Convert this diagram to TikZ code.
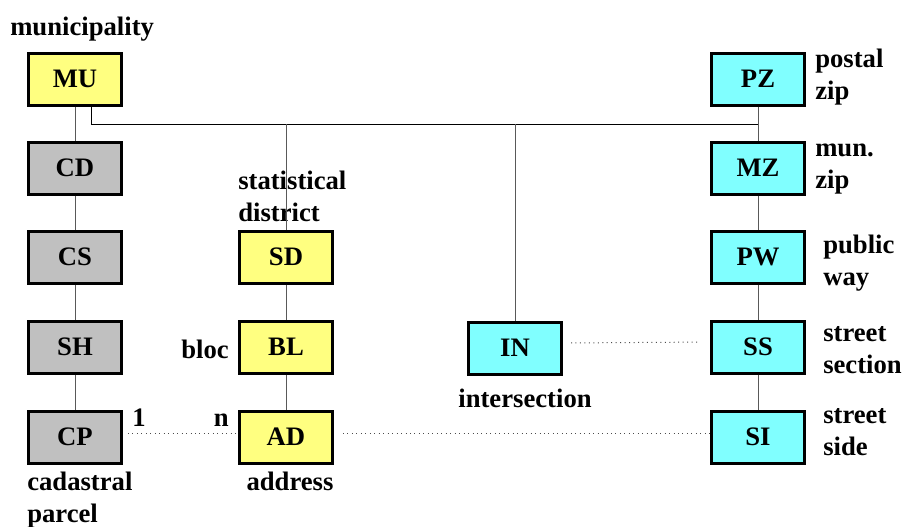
\documentclass[tikz,border=0pt]{standalone}
\usepackage{fontspec}
\setmainfont{Liberation Serif}
\usetikzlibrary{positioning}

\definecolor{boxyellow}{HTML}{FFFF80}
\definecolor{boxgray}{HTML}{C0C0C0}
\definecolor{boxcyan}{HTML}{80FFFF}

\begin{document}
\begin{tikzpicture}[x=0.75pt, y=-0.75pt,
    every node/.style={font=\fontsize{20}{24}\selectfont\bfseries},
    box/.style={draw, line width=2.25pt, minimum width=69.75pt, minimum height=39pt, inner sep=0pt},
    lbl/.style={inner sep=0pt, align=left},
    link/.style={draw=black!65, line width=0.75pt},
    dots/.style={draw=black!70, line width=0.75pt, dash pattern=on 0.75pt off 2.6pt}]
                \useasboundingbox (0,0) rectangle (904,526);

                % Nodes
                \node at (75,79) (mu) [box, fill=boxyellow] {MU};
                \node at (75,168) (cd) [box, fill=boxgray] {CD};
                \node at (75,257) (cs) [box, fill=boxgray] {CS};
                \node at (75,347) (sh) [box, fill=boxgray] {SH};
                \node at (75,437) (cp) [box, fill=boxgray] {CP};
                \node at (286,257) (sd) [box, fill=boxyellow] {SD};
                \node at (286,347) (bl) [box, fill=boxyellow] {BL};
                \node at (286,437) (ad) [box, fill=boxyellow] {AD};
                \node at (515,348) (in) [box, fill=boxcyan] {IN};
                \node at (758,79) (pz) [box, fill=boxcyan] {PZ};
                \node at (758,168) (mz) [box, fill=boxcyan] {MZ};
                \node at (758,257) (pw) [box, fill=boxcyan] {PW};
                \node at (758,347) (ss) [box, fill=boxcyan] {SS};
                \node at (758,437) (si) [box, fill=boxcyan] {SI};
                \coordinate (bus) at (758,124);

                % Labels
                \node at (10,35) (mulbl) [lbl, anchor=base west] {municipality};
                \node at (815,77) (pzlbl) [lbl, anchor=west] {postal\\zip};
                \node at (815,169) (mzlbl) [lbl, anchor=west] {mun.\\zip};
                \node at (823,263) (pwlbl) [lbl, anchor=west] {public\\way};
                \node at (238,196) (sdlbl) [lbl, anchor=west] {statistical\\district};
                \node at (229,358) (bllbl) [lbl, anchor=base east] {bloc};
                \node at (132,426) (one) [lbl, anchor=base west] {1};
                \node at (229,426) (many) [lbl, anchor=base east] {n};
                \node at (27,500) (cplbl) [lbl, anchor=west] {cadastral\\parcel};
                \node at (290,490) (adlbl) [lbl, anchor=base] {address};
                \node at (525,407) (inlbl) [lbl, anchor=base] {intersection};
                \node at (823,350) (sslbl) [lbl, anchor=west] {street\\section};
                \node at (823,432) (silbl) [lbl, anchor=west] {street\\side};

                % Lines
                \draw[link] (mu) -- (cd);
                \draw[link] (cd) -- (cs);
                \draw[link] (cs) -- (sh);
                \draw[link] (sh) -- (cp);
                \draw[link] (sd) -- (bl);
                \draw[link] (bl) -- (ad);
                \draw[link] (pz) -- (mz);
                \draw[link] (mz) -- (pw);
                \draw[link] (pw) -- (ss);
                \draw[link] (ss) -- (si);
                \draw[line width=0.75pt] ([xshift=12pt]mu.south) |- (bus);
                \draw[link] (sd.north) -- (sd.north |- bus);
                \draw[link] (in.north) -- (in.north |- bus);

                % Dotted links
                \draw[dots, shorten <=3.75pt] ([yshift=3pt]cp.east) -- ([yshift=3pt]ad.west);
                \draw[dots, shorten <=6.75pt] ([yshift=3pt]ad.east) -- ([yshift=3pt]si.west);
                \draw[dots, shorten <=6pt, shorten >=9pt] ([yshift=3.75pt]in.east) -- ([yshift=3.75pt]ss.west);
            \end{tikzpicture}
\end{document}
